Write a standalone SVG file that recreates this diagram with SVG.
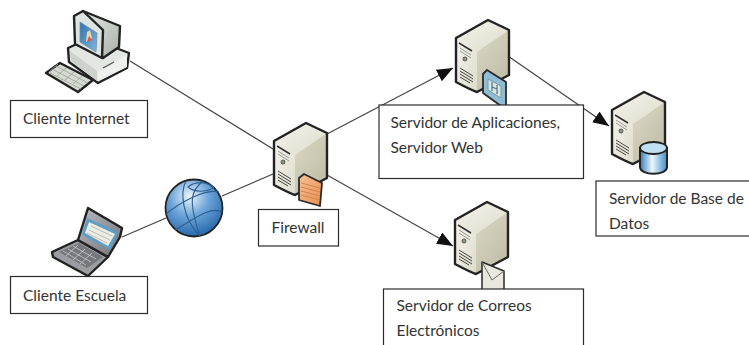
<svg xmlns="http://www.w3.org/2000/svg" width="749" height="345" viewBox="0 0 749 345">
<style>
.box{fill:#fff;stroke:#2b2b2b;stroke-width:1.2}
.t{font-family:"Lato","Open Sans",sans-serif;font-size:15.5px;fill:#333}
.c{stroke:#444;stroke-width:1.2;fill:none}
.o{stroke:#222;stroke-width:2.4;stroke-linejoin:round}
</style>
<defs>
<filter id="soft" x="-5%" y="-5%" width="110%" height="110%"><feGaussianBlur stdDeviation="0.45"/></filter>
<marker id="arr" markerUnits="userSpaceOnUse" markerWidth="17" markerHeight="14" refX="16" refY="6.5" orient="auto"><path d="M0 0L16 6.5L0 13Z" fill="#111"/></marker>
<linearGradient id="gl" x1="0" y1="0" x2="1" y2="1"><stop offset="0" stop-color="#f5f4ec"/><stop offset="1" stop-color="#dedccb"/></linearGradient>
<linearGradient id="gr" x1="0" y1="0" x2="1" y2="1"><stop offset="0" stop-color="#e6e4d3"/><stop offset="1" stop-color="#bcb9a2"/></linearGradient>
<linearGradient id="gcyl" x1="0" y1="0" x2="1" y2="0"><stop offset="0" stop-color="#2d7fc0"/><stop offset=".45" stop-color="#eef7fc"/><stop offset="1" stop-color="#3f8fcb"/></linearGradient>
<linearGradient id="gorg" x1="0" y1="0" x2="1" y2="1"><stop offset="0" stop-color="#f7c095"/><stop offset="1" stop-color="#e88f50"/></linearGradient>
<linearGradient id="gscr" x1="0" y1="0" x2="1" y2="1"><stop offset="0" stop-color="#2f73b5"/><stop offset="1" stop-color="#86b4dc"/></linearGradient>
<linearGradient id="gmon" x1="0" y1="0" x2="1" y2="1"><stop offset="0" stop-color="#e6ebe8"/><stop offset="1" stop-color="#a9aea8"/></linearGradient>
<linearGradient id="glap" x1="0" y1="0" x2="1" y2="1"><stop offset="0" stop-color="#b9bcc0"/><stop offset="1" stop-color="#6f7276"/></linearGradient>
<radialGradient id="gglobe" cx=".42" cy=".3" r=".75"><stop offset="0" stop-color="#eef5fb"/><stop offset=".45" stop-color="#6ea5d8"/><stop offset="1" stop-color="#1f62a8"/></radialGradient>
<g id="server">
<path fill="url(#gr)" d="M33 1L54 11V56L22 73Q16 71 1 63V19Z"/>
<path fill="url(#gl)" d="M33 1L1 19L22 33L54 11Z"/>
<path fill="url(#gl)" d="M1 19L22 33V73L1 63Z"/>
<path class="o" fill="none" d="M33 1L54 11V56L22 73Q16 71 1 63V19Z"/>
<path stroke="#333" stroke-width="1.6" fill="none" d="M4 24L17 32"/>
<path stroke="#999" stroke-width="1" fill="none" d="M5 29L16 36M5 32L16 39"/>
<circle cx="10" cy="40" r="2" fill="#8a9a80" stroke="#444" stroke-width=".8"/>
<path stroke="#444" stroke-width="1" fill="none" d="M5 49L18 57M5 52L18 60M5 55L18 63M5 58L15 64"/>
</g>
</defs>

<g id="connectors">
<line class="c" x1="130" y1="61" x2="273" y2="149"/>
<line class="c" x1="122" y1="237" x2="166" y2="218"/>
<line class="c" x1="222" y1="196" x2="273" y2="174"/>
<line class="c" x1="327" y1="134" x2="453" y2="68" marker-end="url(#arr)"/>
<line class="c" x1="327" y1="175" x2="453" y2="246" marker-end="url(#arr)"/>
<line class="c" x1="508" y1="56" x2="609" y2="126" marker-end="url(#arr)"/>
</g>

<g id="cliente-internet">
<g filter="url(#soft)">
<path class="o" fill="#e3e7e1" d="M68 48L90 38L129 53L127 68L98 83L69 62Z"/>
<path fill="#cdd2cc" d="M70 51L97 71V81L71 61Z"/>
<path fill="#eef0eb" d="M98 72L127 55V67L98 81Z"/>
<path stroke="#555" stroke-width="1.4" d="M103 68L114 62"/>
<path class="o" fill="url(#gmon)" d="M83 11L120 26L119 47L103 58L94 40Z"/>
<path class="o" fill="#dce4e2" d="M74 16L83 11L103 30L102 58L75 44Z"/>
<path fill="url(#gscr)" stroke="#6e8f9c" stroke-width=".8" d="M80 22L97 33L96 52L80 42Z"/>
<path fill="#e8d5a8" d="M87 32L90 30L92 38L86 42Z"/>
<path fill="#d2603a" d="M89 36L92 40L87 42Z"/>
<path class="o" fill="#d5dad2" d="M46 73L60 63L93 80L78 92Z"/>
<path stroke="#9aa097" stroke-width=".8" fill="none" d="M52 69L84 86M56 66L88 83M50 73L81 89M58 64L49 72M66 68L57 76M74 72L65 80M82 76L73 84"/>
</g>
</g>

<g id="cliente-escuela">
<g filter="url(#soft)">
<path class="o" fill="#9a9da1" d="M52 252L78 240L108 257L88 276L53 257Z"/>
<path fill="#74777b" d="M59 252L79 243L103 257L87 268Z"/>
<path stroke="#c9ccd0" stroke-width=".8" fill="none" d="M63 251L86 265M68 249L91 262M73 246L96 259M78 245L66 256M85 249L73 260M92 253L80 264"/>
<path class="o" fill="url(#glap)" d="M88 208L122 228L120 237L108 257L78 240Z"/>
<path fill="#5e9cc6" d="M87 218L118 232L110 250L82 235Z"/>
<path fill="#e7efe6" d="M89 222L115 234L108 246L85 233Z"/>
<path stroke="#c9a59a" stroke-width=".8" fill="none" d="M91 226L112 236M89 230L110 240M87 233L107 243"/>
</g>
</g>

<g id="internet">
<g filter="url(#soft)">
<circle cx="194" cy="208" r="28.500" fill="url(#gglobe)" stroke="#222" stroke-width="1.800"/>
<g fill="none" stroke="#2c5f92" stroke-width="1.100">
<path d="M166 214C178 204 205 188 219 192"/>
<path d="M175 230C190 222 210 205 222 212"/>
<path d="M186 181C180 192 182 218 200 236"/>
<path d="M203 181C192 190 187 198 200 236"/>
<path d="M188 187C195 181 208 181 214 188C206 192 195 193 188 187Z"/>
</g>
</g>
</g>

<g id="firewall">
<g filter="url(#soft)">
<use href="#server" x="273" y="122"/>
<path fill="url(#gorg)" stroke="#2a2a2a" stroke-width="1.800" stroke-linejoin="round" d="M304 174L299 178V200L320 206L322 183Z"/>
<path stroke="#c97a45" stroke-width=".8" fill="none" d="M301 183L320 188M301 187L320 192M301 191L320 196M301 195L320 200"/>
</g>
</g>

<g id="servidor-aplicaciones">
<g filter="url(#soft)">
<use href="#server" x="455" y="19"/>
<path fill="#8fbdd6" stroke="#2a2a2a" stroke-width="1.800" stroke-linejoin="round" d="M487 70L483 74V93L501 106H506V82Z"/>
<path fill="#d7e6e2" stroke="#7a9a9c" stroke-width="1" d="M488 79L501 86V98L488 90Z"/>
<path fill="none" stroke="#55708f" stroke-width="1.200" d="M492 82V91M497 85V94M492 87L497 89"/>
</g>
</g>

<g id="servidor-correos">
<g filter="url(#soft)">
<use href="#server" x="454" y="201"/>
<path fill="#e8e8df" stroke="#2a2a2a" stroke-width="1.500" stroke-linejoin="round" d="M482 262L504 271V292H482Z"/>
<path fill="none" stroke="#666" stroke-width="1" d="M482 262L492 280L504 271"/>
</g>
</g>

<g id="servidor-base-datos">
<g filter="url(#soft)">
<use href="#server" x="611" y="91"/>
<path fill="url(#gcyl)" stroke="#222" stroke-width="2" d="M640 148V167C640 176 667 176 667 167V148Z"/>
<ellipse cx="653.500" cy="148" rx="13.500" ry="6" fill="#bfe0f3" stroke="#222" stroke-width="1.800"/>
</g>
</g>

<g id="label-internet"><rect class="box" x="10.500" y="100.500" width="137" height="37"/><text class="t" x="23" y="124">Cliente Internet</text></g>
<g id="label-escuela"><rect class="box" x="10.500" y="276.500" width="137" height="37"/><text class="t" x="23" y="300.500">Cliente Escuela</text></g>
<g id="label-firewall"><rect class="box" x="258.500" y="209.500" width="80" height="36.500"/><text class="t" x="271.500" y="233">Firewall</text></g>
<g id="label-aplicaciones"><rect class="box" x="379" y="105" width="204.500" height="73.500"/><text class="t" x="390.500" y="128">Servidor de Aplicaciones,</text><text class="t" x="390.500" y="152.500">Servidor Web</text></g>
<g id="label-datos"><rect class="box" x="596" y="181" width="154" height="55"/><text class="t" x="609" y="204">Servidor de Base de</text><text class="t" x="609" y="229">Datos</text></g>
<g id="label-correos"><rect class="box" x="383.500" y="289" width="200" height="57"/><text class="t" x="396.500" y="311">Servidor de Correos</text><text class="t" x="396.500" y="336">Electrónicos</text></g>
</svg>
